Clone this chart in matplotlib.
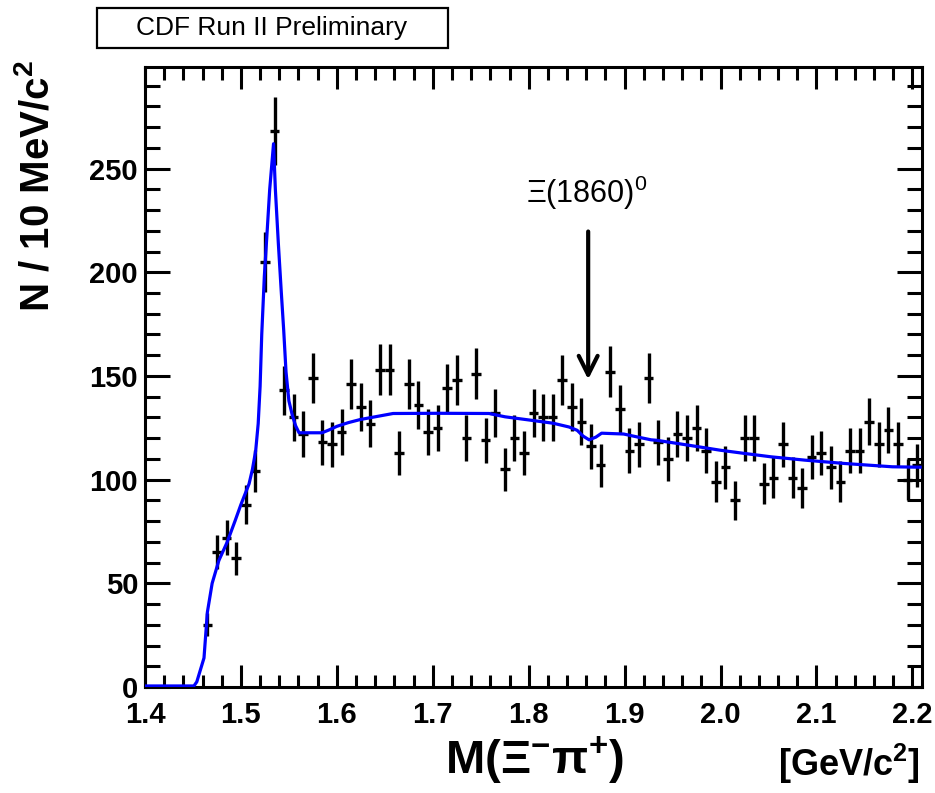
import numpy as np
import matplotlib
matplotlib.use("Agg")
import matplotlib.pyplot as plt
from matplotlib.patches import Rectangle
from matplotlib.ticker import MultipleLocator

plt.rcParams['font.family'] = ['Liberation Sans', 'DejaVu Sans']
plt.rcParams['mathtext.fontset'] = 'custom'
plt.rcParams['mathtext.rm'] = 'Liberation Sans'
plt.rcParams['mathtext.bf'] = 'Liberation Sans:bold'
plt.rcParams['mathtext.it'] = 'Liberation Sans:italic'

# histogram: 10 MeV bins, first non-empty bin centred at 1.465 GeV
first_center = 1.465
bin_width = 0.01
counts = [30, 65, 72, 62, 88, 104, 205, 268, 143, 130,
          122, 149, 118, 117, 123, 146, 135, 127, 153, 153,
          113, 146, 136, 123, 125, 144, 148, 120, 151, 119,
          132, 105, 120, 113, 132, 130, 130, 148, 135, 128,
          116, 107, 152, 134, 114, 117, 149, 118, 110, 122,
          120, 125, 114, 99, 106, 90, 120, 120, 98, 101,
          117, 101, 96, 111, 113, 106, 99, 114, 114, 128,
          117, 124, 117, 100, 107]

# fitted curve
fit_mass = [1.400, 1.451, 1.454, 1.4615, 1.465, 1.470, 1.477, 1.4858, 1.4938,
            1.500, 1.5085, 1.512, 1.5154, 1.518, 1.520, 1.5217, 1.5244, 1.5275,
            1.530, 1.534, 1.5359, 1.539, 1.542, 1.5446, 1.547, 1.550, 1.5536,
            1.557, 1.5606, 1.5846, 1.592, 1.600, 1.612, 1.6245, 1.641, 1.6586,
            1.7066, 1.7587, 1.7754, 1.8015, 1.8255, 1.842, 1.8505, 1.8567,
            1.863, 1.870, 1.876, 1.899, 1.911, 1.9276, 1.933, 1.9557, 1.9777,
            1.9995, 2.0256, 2.0528, 2.088, 2.129, 2.179, 2.208]
fit_vals = [0.5, 0.5, 2.5, 14, 36, 50, 61, 70, 80,
            88, 98, 105, 114, 127, 145, 170, 198, 221,
            240, 262, 240, 214, 191, 172, 152, 138, 131,
            126, 122.6, 122.6, 124, 125.7, 127.5, 129, 130.4, 131.9,
            132, 131.9, 130.3, 128.7, 127.2, 125.4, 123.8, 121,
            119.2, 120.5, 122.4, 122, 120.8, 119.2, 119, 117.4, 115.8,
            114.2, 112.6, 111, 109.4, 107.8, 106.2, 106]

signal_mass = 1.862

counts = np.array(counts, dtype=float)
centers = first_center + bin_width * np.arange(len(counts))
errors = np.sqrt(counts)

fig = plt.figure(figsize=(9.35, 7.93), dpi=100)
ax = fig.add_axes([145 / 935, 1 - 687 / 793, 777 / 935, 620 / 793])

ax.errorbar(centers, counts, yerr=errors, xerr=bin_width / 2, fmt='none',
            ecolor='black', elinewidth=2.4, capsize=0, zorder=2)
ax.plot(fit_mass, fit_vals, color='#0000ff', lw=2.3, zorder=3)

ax.set_xlim(1.4, 2.21)
ax.set_ylim(0, 299)

ax.xaxis.set_major_locator(MultipleLocator(0.1))
ax.xaxis.set_minor_locator(MultipleLocator(0.02))
ax.yaxis.set_major_locator(MultipleLocator(50))
ax.yaxis.set_minor_locator(MultipleLocator(10))
ax.set_xticks(np.round(np.arange(1.4, 2.21, 0.1), 1))
ax.set_xticklabels(['1.4', '1.5', '1.6', '1.7', '1.8', '1.9', '2.0', '2.1', '2.2'])

ax.tick_params(which='both', direction='in', top=True, right=True, width=2.2)
ax.tick_params(axis='y', which='major', length=18, pad=5)
ax.tick_params(axis='y', which='minor', length=10.5)
ax.tick_params(axis='x', which='major', length=16, pad=10)
ax.tick_params(axis='x', which='minor', length=9)
for lab in ax.get_xticklabels() + ax.get_yticklabels():
    lab.set_fontsize(21)
    lab.set_fontweight('bold')
for sp in ax.spines.values():
    sp.set_linewidth(2.2)

# arrow and label for the searched state
ax.annotate('', xy=(signal_mass, 147), xytext=(signal_mass, 221),
            arrowprops=dict(arrowstyle='->', lw=3, color='black',
                            mutation_scale=34), zorder=4)
ax.text(signal_mass - 0.002, 229, 'Ξ(1860)$^{0}$', fontsize=22,
        ha='center', va='bottom')

# axis titles
fig.text(37 / 935, 1 - 60 / 793, 'N / 10 MeV/c$^{\\mathbf{2}}$', rotation=90,
         fontsize=29, fontweight='bold', ha='center', va='top')
fig.text(535 / 935, 1 - 786 / 793, 'M(Ξ$^{\\mathbf{-}}$π$^{\\mathbf{+}}$)',
         fontsize=34, fontweight='bold', ha='center', va='bottom')
fig.text(920 / 935, 1 - 786 / 793, '[GeV/c$^{\\mathbf{2}}$]',
         fontsize=26, fontweight='bold', ha='right', va='bottom')

# header box
fig.patches.append(Rectangle((97 / 935, 1 - 48 / 793), 351 / 935, 40 / 793,
                             transform=fig.transFigure, fill=False,
                             edgecolor='black', lw=1.6))
fig.text(272 / 935, 1 - 28 / 793, 'CDF Run II Preliminary', fontsize=19,
         ha='center', va='center')

fig.savefig('out.png', dpi=100)
